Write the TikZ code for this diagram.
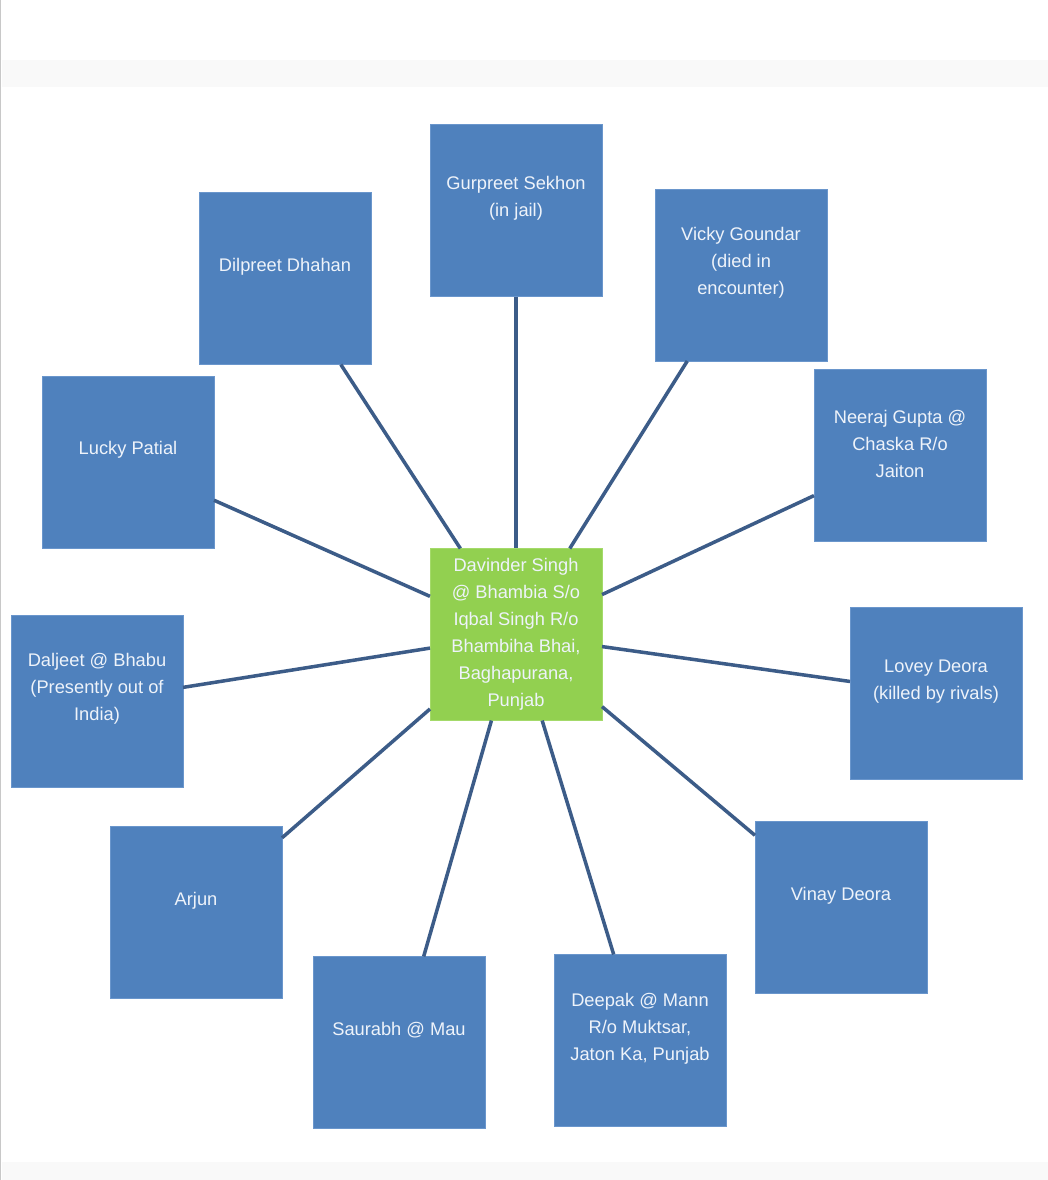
\documentclass[tikz,border=0pt]{standalone}
\usepackage{fontspec}
\setmainfont{Liberation Sans}
\definecolor{boxblue}{HTML}{4F81BD}
\definecolor{boxedge}{HTML}{6A96CC}
\definecolor{linkblue}{HTML}{3C5C88}
\definecolor{boxgreen}{HTML}{92D050}
\definecolor{greenedge}{HTML}{A4DA6A}
\definecolor{txtw}{HTML}{EEF3FA}
\definecolor{band}{HTML}{F9F9F9}
\definecolor{rule}{HTML}{C8C8C8}
\begin{document}
\begin{tikzpicture}[x=0.025cm,y=-0.025cm,
  member/.style={draw=boxedge,line width=0.4pt,fill=boxblue,minimum width=4.3cm,minimum height=4.3cm,inner sep=0pt,outer sep=0pt},
  hub/.style={draw=greenedge,line width=0.4pt,fill=boxgreen,minimum width=4.3cm,minimum height=4.3cm,inner sep=0pt,outer sep=0pt},
  txt/.style={text=txtw,align=center,font=\fontsize{13}{19.2}\selectfont,inner sep=0pt},
  link/.style={draw=linkblue,line width=2.5pt}]
\useasboundingbox (0,0) rectangle (1048,1180);
\fill[white] (0,0) rectangle (1048,1180);
\fill[band] (2,60) rectangle (1048,87);
\fill[band] (2,1162) rectangle (1048,1180);
\fill[rule] (0,0) rectangle (1.5,1180);
% boxes
\node[hub] (c) at (516,634.5) {};
\node[member] (g) at (516,210.5) {};
\node[member] (dil) at (285,278.5) {};
\node[member] (v) at (741,275) {};
\node[member] (l) at (128,462) {};
\node[member] (n) at (900,455.5) {};
\node[member] (dal) at (97,701) {};
\node[member] (lo) at (936,693.5) {};
\node[member] (a) at (196,912.5) {};
\node[member] (vi) at (841,907.5) {};
\node[member] (s) at (399,1042.5) {};
\node[member] (de) at (640,1040.5) {};
% connectors
\foreach \m in {g,dil,v,l,n,dal,lo,a,vi,s,de}{\draw[link] (\m) -- (c);}
% texts
\node[txt] (ct) at (c.center) {Davinder Singh\\@ Bhambia S/o\\Iqbal Singh R/o\\Bhambiha Bhai,\\Baghapurana,\\Punjab};
\node[txt] (gt) at ([yshift=0.3cm]g.center) {Gurpreet Sekhon\\(in jail)};
\node[txt] (dilt) at ([yshift=0.3cm]dil.center) {Dilpreet Dhahan};
\node[txt] (vt) at ([yshift=0.3cm]v.center) {Vicky Goundar\\(died in\\encounter)};
\node[txt] (lt) at ([yshift=0.3cm]l.center) {Lucky Patial};
\node[txt] (nt) at ([yshift=0.3cm]n.center) {Neeraj Gupta @\\Chaska R/o\\Jaiton};
\node[txt] (dalt) at ([yshift=0.3cm]dal.center) {Daljeet @ Bhabu\\(Presently out of\\India)};
\node[txt] (lot) at ([yshift=0.3cm]lo.center) {Lovey Deora\\(killed by rivals)};
\node[txt] (at) at ([yshift=0.3cm]a.center) {Arjun};
\node[txt] (vit) at ([yshift=0.3cm]vi.center) {Vinay Deora};
\node[txt] (st) at ([yshift=0.3cm]s.center) {Saurabh @ Mau};
\node[txt] (det) at ([yshift=0.3cm]de.center) {Deepak @ Mann\\R/o Muktsar,\\Jaton Ka, Punjab};
\end{tikzpicture}
\end{document}
